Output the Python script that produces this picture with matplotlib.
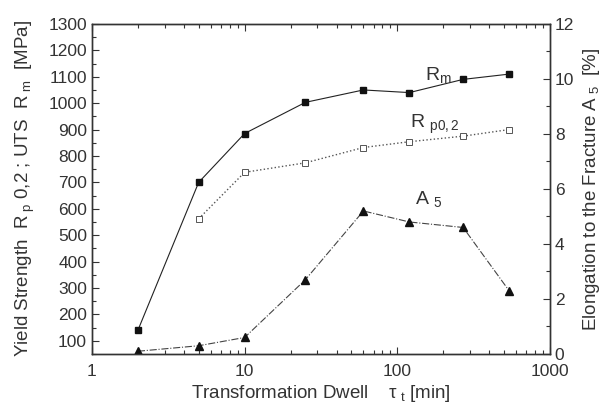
import numpy as np
import matplotlib.pyplot as plt
from matplotlib.ticker import MultipleLocator, FixedLocator

plt.rcParams['font.family'] = ['Liberation Sans', 'DejaVu Sans']
plt.rcParams['mathtext.fontset'] = 'custom'
plt.rcParams['mathtext.rm'] = 'Liberation Sans'
plt.rcParams['mathtext.it'] = 'Liberation Sans'

# transformation dwell time [min]
dwell = [2, 5, 10, 25, 60, 120, 270, 540]
dwell_rp = [5, 10, 25, 60, 120, 270, 540]
rm = [140, 700, 885, 1003, 1050, 1040, 1090, 1110]
rp02 = [562, 738, 774, 832, 854, 875, 900]
a5 = [0.1, 0.3, 0.6, 2.7, 5.2, 4.8, 4.6, 2.3]

txt = '#333333'
ln = '#222222'

fig = plt.figure(figsize=(6.05, 4.03), dpi=100)
ax = fig.add_axes([0.152, 0.1216, 0.757, 0.819])
ax2 = ax.twinx()

ax.plot(dwell, rm, '-', color=ln, lw=0.8, marker='s', ms=5, mfc='#111111', mec='#111111')
ax.plot(dwell_rp, rp02, ':', color='#555555', lw=1.0, marker='s', ms=5,
        mfc='white', mec='#555555', mew=0.7)
ax2.plot(dwell, a5, '-.', color='#444444', lw=0.8, marker='^', ms=6,
         mfc='#111111', mec='#111111')

ax.set_xscale('log')
ax.set_xlim(1, 1000)
ax.set_ylim(50, 1300)
ax.yaxis.set_major_locator(FixedLocator(np.arange(100, 1301, 100)))
ax.yaxis.set_minor_locator(MultipleLocator(50))
ax2.set_ylim(0, 12)
ax2.yaxis.set_major_locator(MultipleLocator(2))
ax2.yaxis.set_minor_locator(MultipleLocator(1))

ax.set_xticks([1, 10, 100, 1000])
ax.set_xticklabels(['1', '10', '100', '1000'])

ax.tick_params(axis='both', which='both', direction='in', top=True, labelsize=12.5,
               colors=txt, width=0.8)
ax.tick_params(which='major', length=5)
ax.tick_params(which='minor', length=3)
ax.tick_params(axis='x', pad=7)
ax2.tick_params(axis='y', which='both', direction='in', labelsize=12.5, colors=txt, width=0.8)
ax2.tick_params(which='major', length=5)
ax2.tick_params(which='minor', length=3)
for a in (ax, ax2):
    for s in a.spines.values():
        s.set_color('#333333')
        s.set_linewidth(1.0)

ax.set_xlabel(r'Transformation Dwell    $\tau_{\rm \ t}$ [min]', fontsize=13.5, color=txt, labelpad=3)
ax.set_ylabel(r'Yield Strength  R$_{\rm \ p}$ 0,2 ; UTS  R$_{\rm \ m}$  [MPa]', fontsize=13.5,
              color=txt, labelpad=8)
ax2.set_ylabel(r'Elongation to the Fracture A$_{\rm \ 5}$  [%]', fontsize=13.5, color=txt, labelpad=5)

ax.text(0.728, 0.83, r'R$_{\rm m}$', transform=ax.transAxes, fontsize=14, color=txt, ha='left')
ax.text(0.695, 0.685, r'R $_{\rm p0,2}$', transform=ax.transAxes, fontsize=14, color=txt, ha='left')
ax.text(0.705, 0.455, r'A $_{\rm 5}$', transform=ax.transAxes, fontsize=14, color=txt, ha='left')

fig.savefig('out.png', dpi=100)
